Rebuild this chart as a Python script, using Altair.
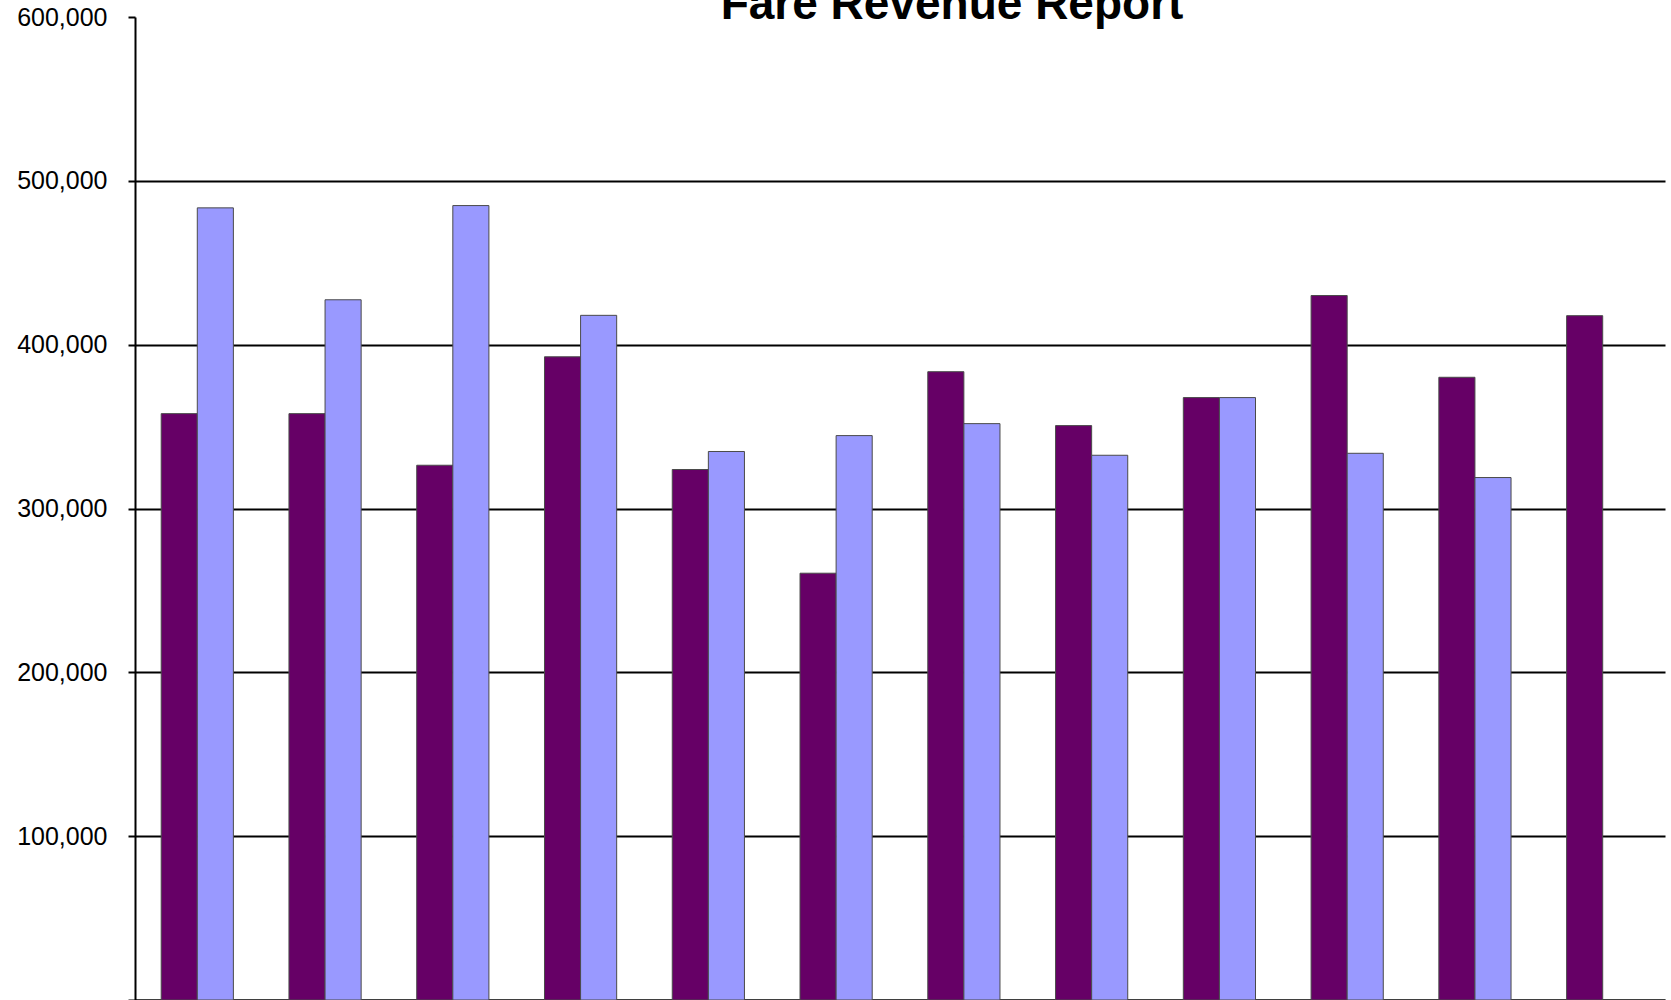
import altair as alt
import pandas as pd

months = ["Jul", "Aug", "Sep", "Oct", "Nov", "Dec", "Jan", "Feb", "Mar", "Apr", "May", "Jun"]
series_names = ["Prior Year", "Current Year"]
prior_year = [357900, 357900, 326400, 392600, 323800, 260500, 383500, 350600, 367700, 430000, 380100, 417700]
current_year = [483500, 427400, 484900, 417900, 334800, 344500, 351800, 332500, 367700, 333700, 318900]
y_ticks = [0, 100000, 200000, 300000, 400000, 500000, 600000]
colors = ["#660066", "#9999FF"]

rows = []
for m, v in zip(months, prior_year):
    rows.append({"Month": m, "Series": series_names[0], "Revenue": v})
for m, v in zip(months, current_year):
    rows.append({"Month": m, "Series": series_names[1], "Revenue": v})
df = pd.DataFrame(rows)

chart = alt.Chart(df).mark_bar(stroke="#4a4a4a", strokeWidth=1).encode(
    x=alt.X("Month:N", sort=months,
            scale=alt.Scale(paddingInner=0.435, paddingOuter=0.205),
            axis=alt.Axis(title=None, labels=False, ticks=False, domain=True,
                          domainColor="black", domainWidth=2, grid=False)),
    xOffset=alt.XOffset("Series:N", sort=series_names,
                        scale=alt.Scale(domain=series_names, paddingInner=0, paddingOuter=0)),
    y=alt.Y("Revenue:Q",
            scale=alt.Scale(domain=[0, 600000], nice=False),
            axis=alt.Axis(title=None, values=y_ticks,
                          labelExpr="datum.value == 0 ? '-' : format(datum.value, ',')",
                          labelFont="Liberation Sans", labelFontSize=25, labelColor="black",
                          labelPadding=21, tickSize=7, tickColor="black", tickWidth=2,
                          domainColor="black", domainWidth=2,
                          grid=True, gridColor="black", gridWidth=2,
                          gridOpacity={"condition": {"test": "datum.value >= 600000", "value": 0},
                                       "value": 1})),
    color=alt.Color("Series:N", sort=series_names,
                    scale=alt.Scale(domain=series_names, range=colors), legend=None),
).properties(
    width=1530,
    height=983,
    background="white",
    title=alt.TitleParams("Fare Revenue Report", font="Liberation Sans", fontSize=46,
                          fontWeight="bold", color="black", anchor="middle", frame="group",
                          offset=-24, dx=52),
    autosize=alt.AutoSizeParams(type="none"),
    padding={"left": 135, "top": 17, "right": 6, "bottom": 0},
).configure_view(stroke="transparent", strokeWidth=0)

chart.save("out.html", embed_options={"renderer": "svg", "actions": False})
